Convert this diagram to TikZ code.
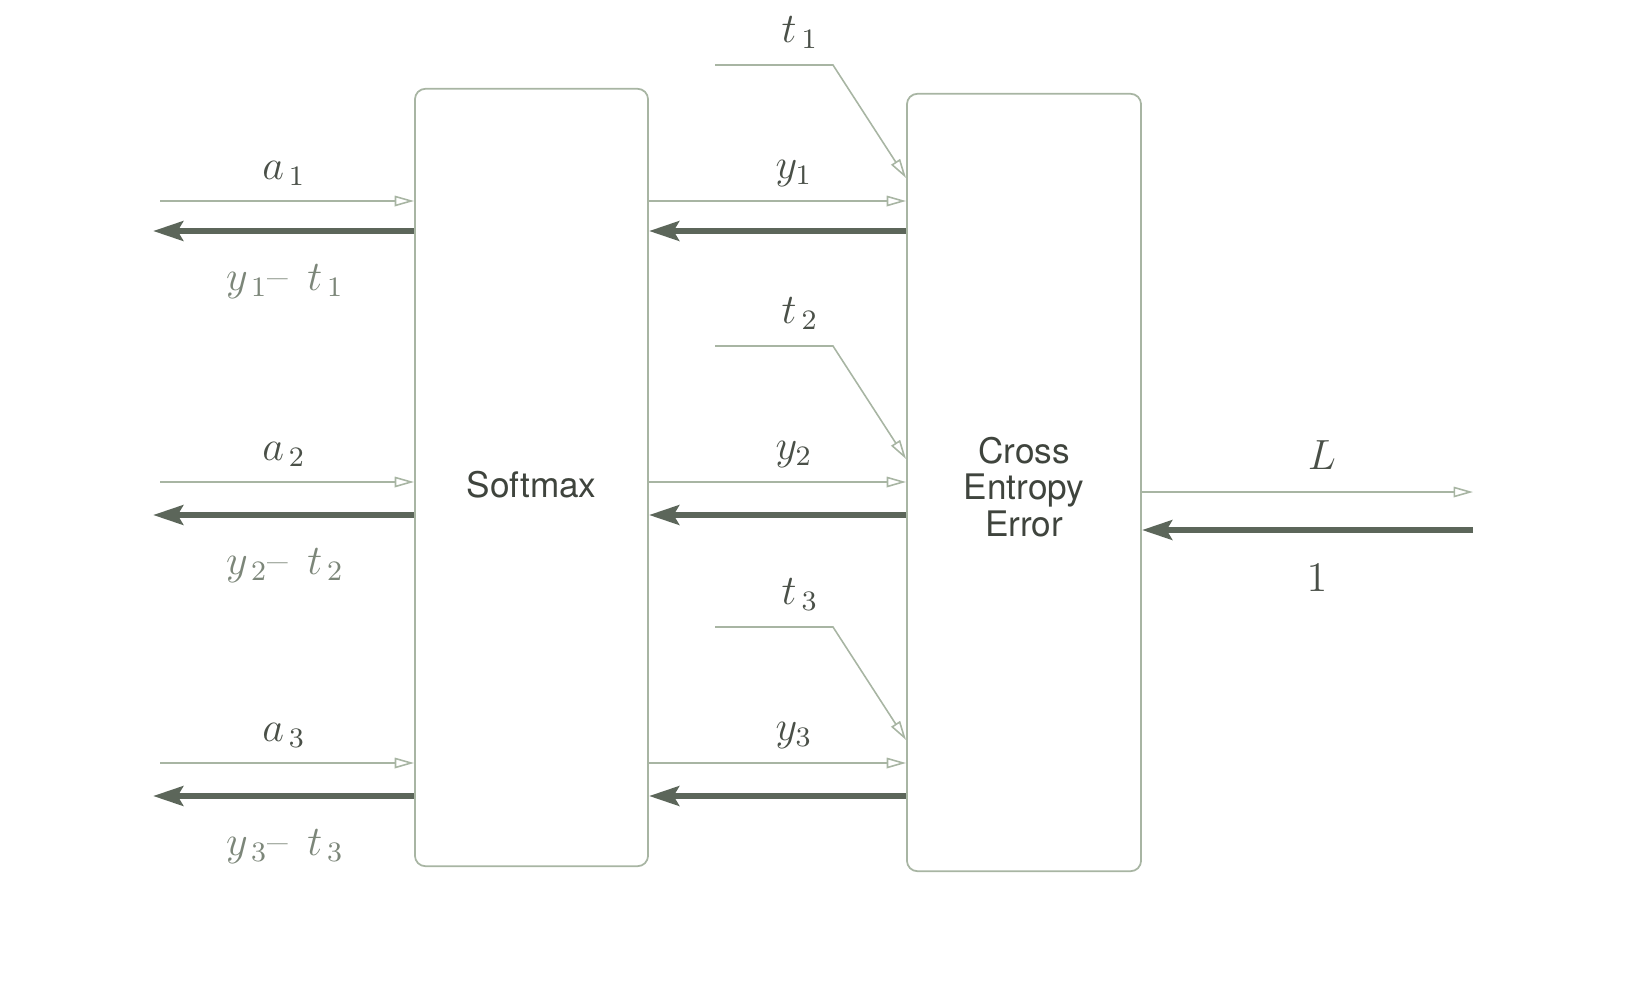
\documentclass[tikz,border=0pt]{standalone}
\usepackage{fontspec}
\setsansfont{TeX Gyre Heros}
\usetikzlibrary{arrows.meta}
\definecolor{boxline}{HTML}{A8B5A3}
\definecolor{backline}{HTML}{5C665A}
\definecolor{labeltext}{HTML}{4A5048}
\definecolor{difftext}{HTML}{7C8679}
\tikzset{
	layer/.style={draw=boxline, line width=0.5pt, rounded corners=3pt, minimum width=2.33cm, minimum height=7.77cm},
	layertext/.style={font=\sffamily\fontsize{10}{10.5}\selectfont, text=labeltext!85!black, align=center},
	fwd/.style={draw=boxline, line width=0.45pt, -{Triangle[open, length=5.5pt, width=3pt]}},
	bwd/.style={draw=backline, line width=1.8pt, -{Stealth[length=8.5pt, width=5.5pt, inset=1.5pt]}},
	lbl/.style={text=labeltext, font=\fontsize{12}{14}\selectfont, anchor=base},
	dlbl/.style={lbl, text=difftext},
}

\begin{document}
\begin{tikzpicture}[x=0.01cm, y=-0.01cm]
\useasboundingbox (0,0) rectangle (1638,999);

\node[layer] (sm) at (531.5,477.5) {};
\node[layer, minimum width=2.34cm] (ce) at (1024,482.5) {};
\node[layertext] (smtext) at ([yshift=-2.1pt]sm.center) {Softmax};
\node[layertext] (cetext) at ([yshift=-1.3pt]ce.center) {Cross\\Entropy\\Error};

% one row per output
\foreach \i/\yf/\yb in {1/201/231, 2/482/515, 3/763/796}
{
	\coordinate (in\i) at (160, \yf);
	\coordinate (out\i) at (153, \yb);
	\coordinate (tstart\i) at (715, \yf - 136);
	\coordinate (tbend\i) at (833, \yf - 136);
	\coordinate (ttip\i) at (0, \yf - 23);

	\draw[fwd] (in\i) -- (in\i -| sm.west);
	\draw[bwd] (out\i -| sm.west) -- (out\i);
	\draw[fwd] (in\i -| sm.east) -- (in\i -| ce.west);
	\draw[bwd] (out\i -| ce.west) -- (out\i -| sm.east);
	\draw[fwd] (tstart\i) -- (tbend\i) -- (ttip\i -| ce.west);

	\node[lbl] (a\i) at (284, \yf - 22) {$a_{\,\i}$};
	\node[dlbl] (d\i) at (285, \yb + 59) {$y_{\,\i}$--\;\,$t_{\,\i}$};
	\node[lbl] (y\i) at (794, \yf - 23) {$y_{\i}$};
	\node[lbl] (t\i) at (800, \yf - 159) {$t_{\,\i}$};
}

\coordinate (lossend) at (1473, 492);
\coordinate (gradstart) at (1473, 530);
\draw[fwd] (lossend -| ce.east) -- (lossend);
\draw[bwd] (gradstart) -- (gradstart -| ce.east);
\node[lbl] (loss) at (1322, 469) {$L$};
\node[lbl] (one) at (1317, 591) {$1$};
\end{tikzpicture}
\end{document}
